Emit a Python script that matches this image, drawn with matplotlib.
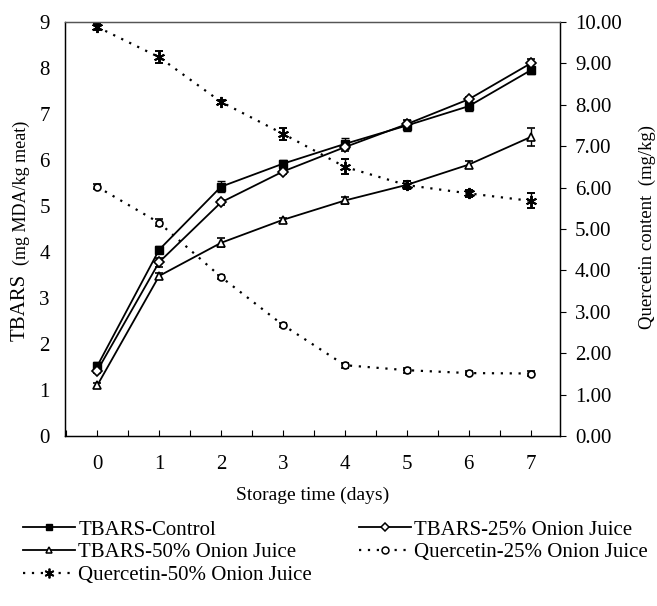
import matplotlib
matplotlib.use("Agg")
import matplotlib.pyplot as plt
from matplotlib.lines import Line2D
from matplotlib.ticker import MultipleLocator, FormatStrFormatter

plt.rcParams["font.family"] = ["Liberation Serif", "DejaVu Serif"]

# DATA
days = [0, 1, 2, 3, 4, 5, 6, 7]

tbars_control = [1.52, 4.05, 5.42, 5.92, 6.35, 6.75, 7.17, 7.95]
tbars_control_err = [0.08, 0.08, 0.12, 0.08, 0.12, 0.12, 0.10, 0.08]

tbars_25 = [1.42, 3.78, 5.08, 5.75, 6.28, 6.78, 7.32, 8.10]
tbars_25_err = [0.06, 0.10, 0.06, 0.06, 0.08, 0.08, 0.06, 0.10]

tbars_50 = [1.10, 3.48, 4.20, 4.70, 5.12, 5.46, 5.90, 6.50]
tbars_50_err = [0.06, 0.06, 0.10, 0.04, 0.08, 0.08, 0.08, 0.20]

quer_25 = [6.02, 5.15, 3.84, 2.68, 1.71, 1.59, 1.52, 1.51]
quer_25_err = [0.06, 0.08, 0.05, 0.05, 0.06, 0.06, 0.05, 0.05]

quer_50 = [9.88, 9.15, 8.07, 7.30, 6.50, 6.06, 5.86, 5.68]
quer_50_err = [0.08, 0.15, 0.05, 0.15, 0.18, 0.10, 0.08, 0.18]

labels = ["TBARS-Control", "TBARS-25% Onion Juice", "TBARS-50% Onion Juice",
          "Quercetin-25% Onion Juice", "Quercetin-50% Onion Juice"]

fig = plt.figure(figsize=(6.57, 6.06), dpi=100)
ax = fig.add_axes([0.099, 0.2805, 0.753, 0.6832])
ax2 = ax.twinx()

err_kw = dict(capsize=3, elinewidth=1.0, capthick=1.0, ecolor="black")
dots = (0, (1, 3))
star = (6, 2, 0)

ax.errorbar(days, tbars_control, yerr=tbars_control_err, color="black",
            lw=1.3, marker="s", ms=6, mfc="black", mec="black", **err_kw)
ax.errorbar(days, tbars_25, yerr=tbars_25_err, color="black",
            lw=1.3, marker="D", ms=5, mfc="white", mec="black", mew=1.2, **err_kw)
ax.errorbar(days, tbars_50, yerr=tbars_50_err, color="black",
            lw=1.3, marker="^", ms=6, mfc="white", mec="black", mew=1.2, **err_kw)

ax2.errorbar(days, quer_25, yerr=quer_25_err, color="black",
             lw=1.6, ls=dots, marker="o", ms=5, mfc="white", mec="black",
             mew=1.2, **err_kw)
ax2.errorbar(days, quer_50, yerr=quer_50_err, color="black",
             lw=1.6, ls=dots, marker=star, ms=8, mec="black", mew=1.4, **err_kw)

# axes
ax.set_xlim(-0.52, 7.47)
ax.set_ylim(0, 9)
ax2.set_ylim(0, 10)

ax.xaxis.set_major_locator(MultipleLocator(1))
ax.xaxis.set_minor_locator(MultipleLocator(0.5))
ax.yaxis.set_major_locator(MultipleLocator(1))
ax2.yaxis.set_major_locator(MultipleLocator(1))
ax2.yaxis.set_major_formatter(FormatStrFormatter("%.2f"))

ax.tick_params(axis="x", which="both", direction="in", length=4, width=0.8,
               labelsize=15, pad=14)
ax.tick_params(axis="y", direction="in", length=0, labelsize=15, pad=11)
ax2.tick_params(axis="y", direction="out", length=4, width=0.8,
                labelsize=15, pad=7)

for a in (ax, ax2):
    for sp in a.spines.values():
        sp.set_linewidth(0.9)
ax.spines["top"].set_color("#555555")
ax2.spines["top"].set_color("#555555")

# axis titles
ax.set_xlabel("Storage time (days)", fontsize=14, labelpad=9)
fig.text(0.031, 0.493, "TBARS", rotation=90, fontsize=15, ha="center", va="center")
fig.text(0.032, 0.681, "(mg MDA/kg meat)", rotation=90, fontsize=13,
         ha="center", va="center")
fig.text(0.985, 0.626, "Quercetin content  (mg/kg)", rotation=90, fontsize=13.5,
         ha="center", va="center")

# legend below plot (two columns placed separately)
h_ctrl = Line2D([], [], color="black", lw=1.3, marker="s", ms=5, mfc="black")
h_25 = Line2D([], [], color="black", lw=1.3, marker="D", ms=4, mfc="white", mew=1.1)
h_50 = Line2D([], [], color="black", lw=1.3, marker="^", ms=5, mfc="white", mew=1.1)
h_q25 = Line2D([], [], color="black", lw=1.6, ls=dots, marker="o", ms=5,
               mfc="white", mew=1.1)
h_q50 = Line2D([], [], color="black", lw=1.6, ls=dots, marker=star, ms=7, mew=1.3)

leg_kw = dict(loc="upper left", frameon=False, fontsize=15, handlelength=2.5,
              handletextpad=0.15, labelspacing=0.15, borderaxespad=0,
              borderpad=0, numpoints=1)
leg1 = fig.legend([h_ctrl, h_50, h_q50], [labels[0], labels[2], labels[4]],
                  bbox_to_anchor=(0.035, 0.142), **leg_kw)
fig.legend([h_25, h_q25], [labels[1], labels[3]],
           bbox_to_anchor=(0.546, 0.142), **leg_kw)

fig.savefig("out.png", dpi=100)
